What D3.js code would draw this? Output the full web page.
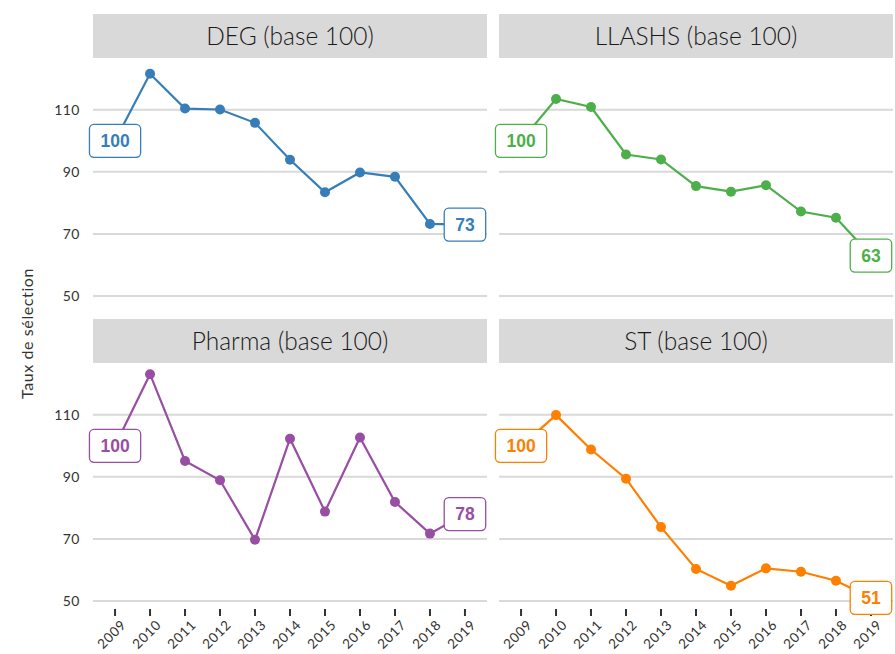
<!DOCTYPE html>
<html><head><meta charset="utf-8">
<script src="https://cdn.jsdelivr.net/npm/d3@7"></script>
<style>body{margin:0;background:#fff} svg{display:block}</style>
</head><body>
<script>
const years = [2009, 2010, 2011, 2012, 2013, 2014, 2015, 2016, 2017, 2018, 2019];
const panelTitles = ["DEG (base 100)", "LLASHS (base 100)", "Pharma (base 100)", "ST (base 100)"];
const panelColors = ["#377eb8", "#4daf4a", "#984ea3", "#ff7f00"];
const degValues    = [100, 121.6, 110.4, 110.1, 105.8, 93.9, 83.4, 89.8, 88.4, 73.2, 73];
const llashsValues = [100, 113.5, 110.9, 95.6, 94.0, 85.4, 83.6, 85.7, 77.2, 75.2, 63];
const pharmaValues = [100, 123.1, 95.1, 88.9, 69.7, 102.3, 78.8, 102.7, 81.9, 71.7, 78];
const stValues     = [100, 109.9, 98.8, 89.4, 73.8, 60.3, 54.9, 60.5, 59.4, 56.5, 51];
const yTicks = [50, 70, 90, 110];
const yTitle = "Taux de sélection";

const seriesValues = [degValues, llashsValues, pharmaValues, stValues];

const W = 895, H = 654;
const svg = d3.select("body").append("svg").attr("width", W).attr("height", H);

const colX = [93, 499], panelW = 394;
const rowY = [14, 319], stripH = 44, plotH = 246;

const all = seriesValues.flat();
const lo = d3.min(all), hi = d3.max(all), pad = (hi - lo) * 0.05;
const yDomain = [lo - pad, hi + pad];
const xDomain = [2008.37, 2019.63];

const font = "Lato, 'Open Sans', sans-serif";

panelTitles.forEach((title, i) => {
  const col = i % 2, row = Math.floor(i / 2);
  const x0 = colX[col], y0 = rowY[row];
  const top = y0 + stripH;
  const x = d3.scaleLinear().domain(xDomain).range([x0, x0 + panelW]);
  const y = d3.scaleLinear().domain(yDomain).range([top + plotH, top]);
  const color = panelColors[i];
  const vals = seriesValues[i];
  const data = years.map((yr, k) => ({yr, v: vals[k]}));
  const g = svg.append("g");

  // strip
  g.append("rect").attr("x", x0).attr("y", y0).attr("width", panelW).attr("height", stripH).attr("fill", "#d9d9d9");
  g.append("text").attr("x", x0 + panelW / 2).attr("y", y0 + stripH / 2).attr("dy", "0.36em")
    .attr("text-anchor", "middle").attr("font-family", font).attr("font-weight", 300)
    .attr("font-size", 24.5).attr("fill", "#1a1a1a").text(title);

  // gridlines
  g.selectAll(".grid").data(yTicks).enter().append("line")
    .attr("x1", x0).attr("x2", x0 + panelW).attr("y1", d => y(d)).attr("y2", d => y(d))
    .attr("stroke", "#d9d9d9").attr("stroke-width", 2);

  // y tick labels
  if (col === 0) {
    g.selectAll(".yl").data(yTicks).enter().append("text")
      .attr("x", x0 - 13).attr("y", d => y(d)).attr("dy", "0.35em").attr("text-anchor", "end")
      .attr("font-family", font).attr("font-size", 14).attr("letter-spacing", 0.5)
      .attr("fill", "#333").text(d => d);
  }
  // x axis
  if (row === 1) {
    const axisY = top + plotH;
    g.selectAll(".xt").data(years).enter().append("line")
      .attr("x1", d => x(d)).attr("x2", d => x(d)).attr("y1", axisY).attr("y2", axisY + 7)
      .attr("stroke", "#333").attr("stroke-width", 2);
    g.selectAll(".xl").data(years).enter().append("text")
      .attr("transform", d => `translate(${x(d) + 5},${axisY + 10}) rotate(-45)`)
      .attr("dy", "0.72em").attr("text-anchor", "end")
      .attr("font-family", font).attr("font-size", 13.5).attr("letter-spacing", 0.6)
      .attr("fill", "#333").text(d => d);
  }

  // line
  const line = d3.line().x(d => x(d.yr)).y(d => y(d.v));
  g.append("path").datum(data).attr("d", line).attr("fill", "none").attr("stroke", color).attr("stroke-width", 2.2);
  g.selectAll(".pt").data(data).enter().append("circle")
    .attr("cx", d => x(d.yr)).attr("cy", d => y(d.v)).attr("r", 5).attr("fill", color);

  // end labels
  [data[0], data[data.length - 1]].forEach(d => {
    const lg = g.append("g").attr("transform", `translate(${x(d.yr)},${y(d.v)})`);
    const rect = lg.append("rect");
    const t = lg.append("text").attr("text-anchor", "middle").attr("dy", "0.36em")
      .attr("font-family", "'Liberation Sans', Arial, sans-serif").attr("font-weight", "bold")
      .attr("font-size", 17.5).attr("fill", color).text(Math.round(d.v));
    const w = t.node().getComputedTextLength() + 22, h = 33;
    rect.attr("x", -w / 2).attr("y", -h / 2).attr("width", w).attr("height", h).attr("rx", 4.5)
      .attr("fill", "#fff").attr("stroke", color).attr("stroke-width", 1.3);
  });
});

svg.append("text").attr("transform", `translate(33,${(rowY[0] + stripH + rowY[1] + stripH + plotH) / 2}) rotate(-90)`)
  .attr("text-anchor", "middle").attr("font-family", font).attr("font-size", 16)
  .attr("letter-spacing", 0.6).attr("fill", "#333").text(yTitle);
</script>
</body></html>
